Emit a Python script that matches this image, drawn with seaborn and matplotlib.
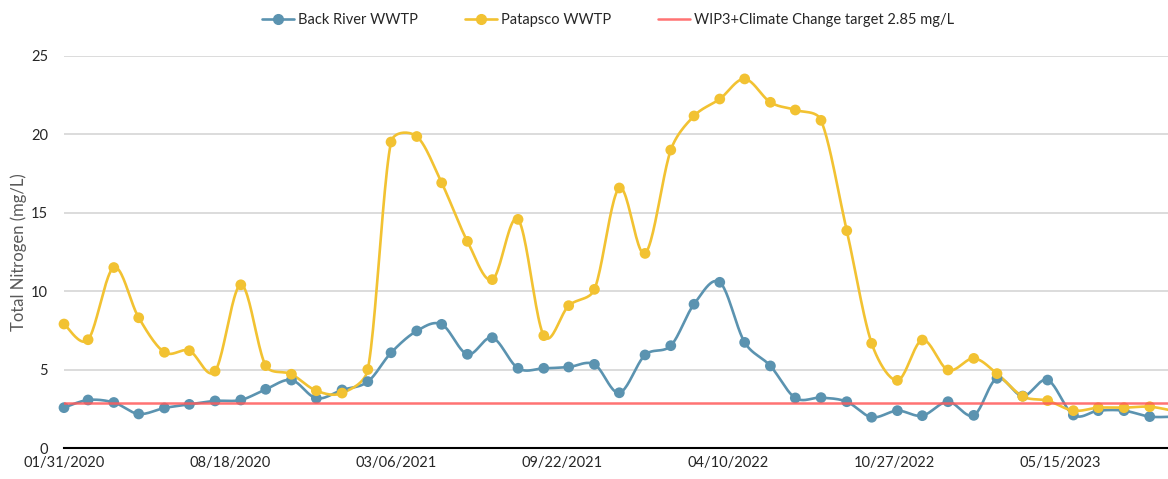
import numpy as np
import pandas as pd
import seaborn as sns
import matplotlib.pyplot as plt
import matplotlib.dates as mdates
from matplotlib.lines import Line2D

# monthly samples, Jan 2020 - Sep 2023 (month-end dates)
months = pd.date_range("2020-01-31", periods=45, freq="ME")

back_river = [2.57, 3.06, 2.90, 2.17, 2.55, 2.78, 3.00, 3.06, 3.74, 4.33, 3.17, 3.70,
              4.23, 6.07, 7.46, 7.88, 5.97, 7.03, 5.08, 5.08, 5.16, 5.33, 3.52, 5.93,
              6.52, 9.16, 10.56, 6.73, 5.23, 3.19, 3.21, 2.95, 1.96, 2.38, 2.06, 2.95,
              2.08, 4.44, 3.31, 4.33, 2.10, 2.38, 2.38, 2.00, 2.00]
patapsco = [7.90, 6.90, 11.50, 8.30, 6.10, 6.20, 4.90, 10.40, 5.25, 4.70, 3.65, 3.50,
            5.00, 19.50, 19.85, 16.90, 13.17, 10.73, 14.57, 7.16, 9.07, 10.11, 16.57, 12.40,
            18.99, 21.16, 22.24, 23.52, 22.03, 21.54, 20.88, 13.85, 6.67, 4.31, 6.88, 4.97,
            5.71, 4.74, 3.29, 3.02, 2.38, 2.57, 2.57, 2.63, 2.35]
target = 2.85

series_names = ["Back River WWTP", "Patapsco WWTP"]
target_name = "WIP3+Climate Change target 2.85 mg/L"
tick_dates = ["2020-01-31", "2020-08-18", "2021-03-06", "2021-09-22",
              "2022-04-10", "2022-10-27", "2023-05-15"]

blue = "#5B93B0"
yellow = "#F2C232"
red = "#FF5A5A"

# screen scale of the plot (px per day, px per mg/L), used for the smoothing
PX_DAY = 0.83
PX_VAL = 15.69


def smooth(x, y, n=24):
    # excel-like smoothed line: catmull-rom bezier, handles clamped
    # to a share of the segment length so steep jumps overshoot less
    p = np.column_stack([x * PX_DAY, y * PX_VAL])
    pad = np.vstack([p[0], p, p[-1]])
    out = []
    t = np.linspace(0, 1, n)[:, None]
    for i in range(len(p) - 1):
        p0, p3 = pad[i + 1], pad[i + 2]
        lim = np.linalg.norm(p3 - p0) * 0.4
        h0 = (pad[i + 2] - pad[i]) / 6
        h1 = (pad[i + 3] - pad[i + 1]) / 6
        n0, n1 = np.linalg.norm(h0), np.linalg.norm(h1)
        if n0 > lim:
            h0 = h0 * lim / n0
        if n1 > lim:
            h1 = h1 * lim / n1
        c1 = p0 + h0
        c2 = p3 - h1
        seg = ((1 - t) ** 3) * p0 + 3 * ((1 - t) ** 2) * t * c1 + 3 * (1 - t) * t ** 2 * c2 + t ** 3 * p3
        out.append(seg if i == 0 else seg[1:])
    out = np.vstack(out)
    return out[:, 0] / PX_DAY, out[:, 1] / PX_VAL


sns.set_theme(style="white")
plt.rcParams["font.family"] = ["Lato", "DejaVu Sans"]

fig = plt.figure(figsize=(11.68, 4.79), dpi=100)
ax = fig.add_axes([64 / 1168, 31 / 479, 1104 / 1168, 392.3 / 479])

xnum = mdates.date2num(months)
for vals, col in [(back_river, blue), (patapsco, yellow)]:
    sx, sy = smooth(xnum, np.array(vals))
    sns.lineplot(x=mdates.num2date(sx), y=sy, ax=ax, color=col, lw=1.9, sort=False,
                 estimator=None, zorder=3)
    sns.scatterplot(x=months, y=vals, ax=ax, color=col, s=60, edgecolor="none",
                    zorder=4, clip_on=False)

ax.axhline(target, color=red, lw=1.8, alpha=0.85, zorder=5)

start = pd.Timestamp("2020-01-31")
ax.set_xlim(start, start + pd.Timedelta(days=1330))
ax.set_ylim(0, 25)
ax.set_yticks([0, 5, 10, 15, 20, 25])
ticks = pd.to_datetime(tick_dates)
ax.set_xticks(ticks)
ax.set_xticklabels([d.strftime("%m/%d/%Y") for d in ticks])

ax.grid(axis="y", color="#D9D9D9", lw=1.3)
ax.set_axisbelow(True)
for s in ["top", "right", "left"]:
    ax.spines[s].set_visible(False)
ax.spines["bottom"].set_color("black")
ax.spines["bottom"].set_linewidth(1.5)
ax.spines["bottom"].set_zorder(2)

ax.tick_params(axis="y", length=0, pad=11.5, labelsize=10.5, labelcolor="#262626")
ax.tick_params(axis="x", length=0, pad=6, labelsize=10.5, labelcolor="#262626")
ax.set_xlabel("")
ax.set_ylabel("Total Nitrogen (mg/L)", fontsize=12, color="#595959")
ax.yaxis.set_label_coords(-37 / 1104, 0.5)

handles = [
    Line2D([], [], color=blue, lw=1.9, marker="o", markersize=7),
    Line2D([], [], color=yellow, lw=1.9, marker="o", markersize=7),
    Line2D([], [], color=red, lw=1.8, alpha=0.85),
]
fig.legend(handles, series_names + [target_name], loc="center",
           bbox_to_anchor=(608 / 1168, 1 - 20 / 479), ncol=3, frameon=False,
           fontsize=10.5, handlelength=2.2, handletextpad=0.3, columnspacing=3.2,
           labelcolor="#262626")

fig.savefig("out.png", dpi=100)
